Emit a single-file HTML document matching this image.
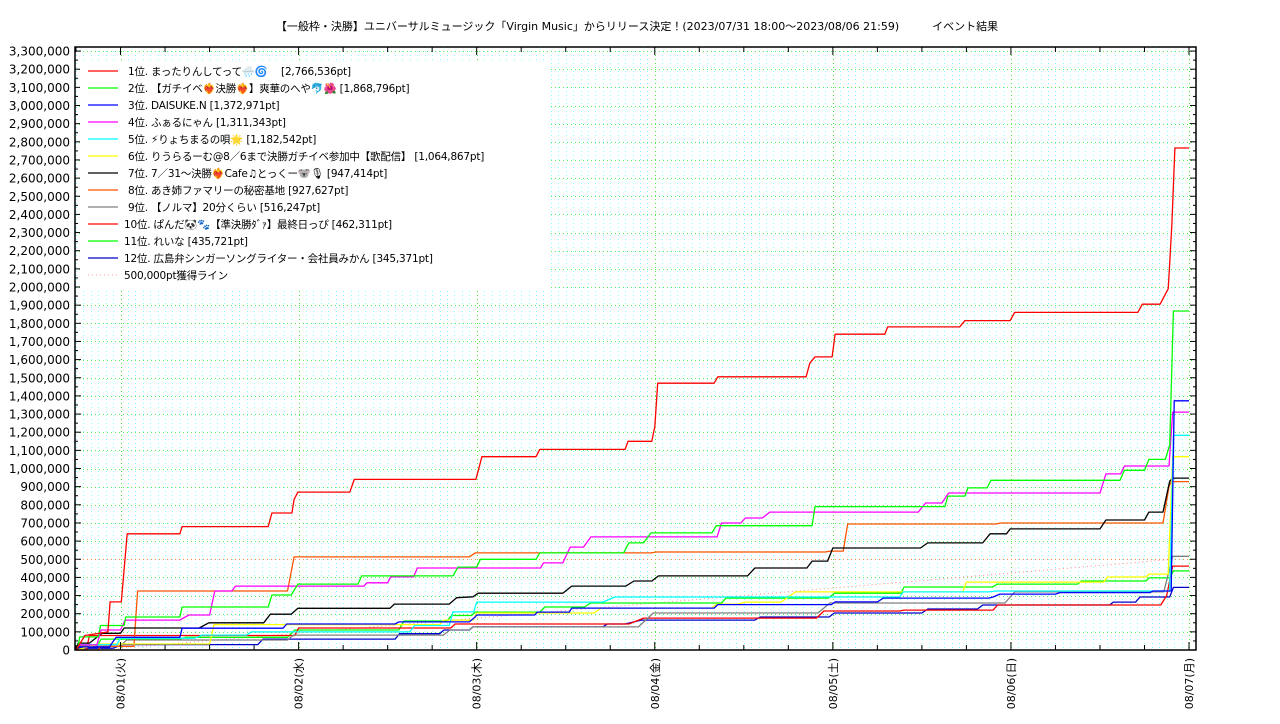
<!DOCTYPE html>
<html><head><meta charset="utf-8">
<style>
html,body{margin:0;padding:0;background:#fff;}
body{width:1280px;height:720px;overflow:hidden;font-family:"DejaVu Sans","Liberation Sans","Noto Sans CJK JP",sans-serif;}
svg text{font-family:"DejaVu Sans","Liberation Sans","Noto Sans CJK JP",sans-serif;}
</style></head>
<body>
<svg id="chart" width="1280" height="720" xmlns="http://www.w3.org/2000/svg">
<text x="637" y="30" font-size="11" text-anchor="middle" fill="#000">【一般枠・決勝】ユニバーサルミュージック「Virgin Music」からリリース決定！(2023/07/31 18:00～2023/08/06 21:59)　　　イベント結果</text>
<g id="grid" shape-rendering="crispEdges"></g>
<g id="refs"></g>
<g id="series"></g>
<g id="axes"></g>
<g id="legend"></g>
</svg>
<script>
// ---- data (hours since 2023/07/31 18:00, points in thousands) ----
const dayLabels = ["08/01(火)","08/02(水)","08/03(木)","08/04(金)","08/05(土)","08/06(日)","08/07(月)"];
const yTicks = [0,100,200,300,400,500,600,700,800,900,1000,1100,1200,1300,1400,1500,1600,1700,1800,1900,2000,2100,2200,2300,2400,2500,2600,2700,2800,2900,3000,3100,3200,3300];
const seriesNames = ["1位. まったりんしてって🌧️🌀　 [2,766,536pt]","2位. 【ガチイベ❤️‍🔥決勝❤️‍🔥】爽華のへや🐬🌺 [1,868,796pt]","3位. DAISUKE.N [1,372,971pt]","4位. ふぁるにゃん [1,311,343pt]","5位. ⚡りょちまるの唄🌟 [1,182,542pt]","6位. りうらるーむ@8／6まで決勝ガチイベ参加中【歌配信】 [1,064,867pt]","7位. 7／31〜決勝❤️‍🔥Cafe♫とっくー🐨🎙 [947,414pt]","8位. あき姉ファマリーの秘密基地 [927,627pt]","9位. 【ノルマ】20分くらい [516,247pt]","10位. ぱんだ🐼🐾【準決勝ﾀﾞｧ】最終日っぴ [462,311pt]","11位. れいな [435,721pt]","12位. 広島弁シンガーソングライター・会社員みかん [345,371pt]"];
const seriesColors = ["#ff0000","#00ff00","#0000ff","#ff00ff","#00ffff","#ffff00","#000000","#ff5500","#808080","#ff0000","#00ff00","#0000cc"];
const s1 = [[0,0],[1.2,80],[4.3,100],[4.6,265],[6.1,265],[6.9,640],[14,640],[14.3,680],[25.9,680],[26.4,755],[29.1,755],[29.4,830],[29.9,870],[36.9,870],[37.5,940],[53.9,940],[54.7,1065],[62,1065],[62.5,1105],[74,1105],[74.4,1150],[77.6,1150],[78,1230],[78.4,1470],[86,1470],[86.5,1505],[98.4,1505],[98.9,1580],[99.6,1615],[101.9,1615],[102.3,1740],[109,1740],[109.4,1780],[119.1,1780],[119.8,1815],[125.9,1815],[126.5,1860],[143.1,1860],[143.7,1905],[146.1,1905],[147.2,1990],[147.4,2130],[147.7,2350],[148.1,2766],[150,2766]];
const s2 = [[0,0],[0.3,20],[0.5,72],[3,72],[3.3,135],[6.5,135],[6.7,182],[14,182],[14.3,237],[25.9,237],[26.4,303],[29,303],[29.9,363],[38,363],[38.5,408],[50.8,408],[51.5,457],[54,457],[54.5,500],[62,500],[62.5,535],[73.8,535],[74.5,590],[76.5,590],[77.5,645],[85.7,645],[86.3,685],[99.2,685],[99.6,790],[117.1,790],[117.5,848],[119.8,848],[120.2,893],[122.8,893],[123.3,935],[140.7,935],[141.3,990],[144,990],[144.6,1050],[146.8,1050],[147.4,1130],[147.9,1868],[150,1868]];
const s3 = [[0,0],[0.5,17],[4.5,17],[5.4,70],[14,70],[14.3,120],[27.9,120],[28.4,143],[43,143],[43.5,155],[53,155],[53.8,182],[54,193],[61.8,193],[62.2,209],[66.5,209],[66.8,231],[86,231],[86.5,250],[101.8,250],[102.3,265],[108,265],[108.8,286],[123,286],[123.6,292],[124.5,308],[132,308],[132.6,316],[144.7,316],[145.2,325],[147.6,325],[148,1373],[150,1373]];
const s4 = [[0,0],[0.5,28],[2.8,28],[3.4,110],[6,110],[6.6,165],[14,165],[15.2,193],[18,193],[18.7,325],[21,325],[21.5,352],[38.8,352],[39.2,370],[42,370],[42.4,403],[45.5,403],[46,452],[62.6,452],[63,480],[65.6,480],[66.6,567],[68.4,567],[69.4,623],[86.4,623],[87,700],[89.6,700],[90.2,727],[92.5,727],[93.5,760],[113.5,760],[114.5,810],[116.7,810],[117.6,865],[138,865],[138.8,970],[140.8,970],[141.3,1014],[147.3,1014],[147.8,1311],[150,1311]];
const s5 = [[0,0],[0.5,30],[5.5,30],[6,65],[16,65],[17,82],[23,82],[23.6,100],[45,100],[45.6,135],[50.3,135],[50.8,210],[53.6,210],[54,264],[71,264],[72.6,292],[111,292],[111.5,320],[123,320],[124,325],[147.4,325],[147.9,1183],[150,1183]];
const s6 = [[0,0],[3.2,33],[18,33],[18.6,140],[49,140],[49.6,165],[53.5,165],[54,204],[69.8,204],[70.8,231],[85.6,231],[86.4,253],[89.2,253],[90.2,264],[95,264],[97,320],[119.5,320],[120,374],[138.5,374],[139,402],[144.2,402],[144.6,418],[147.2,418],[147.8,1065],[150,1065]];
const s7 = [[0,0],[0.3,38],[1.8,38],[3.5,92],[6,92],[6.5,121],[16.6,121],[17.9,150],[25.3,150],[26.2,197],[29,197],[29.9,230],[42.3,230],[42.9,253],[50.3,253],[51.3,288],[53.5,293],[54.2,313],[65.6,313],[66.8,352],[74.1,352],[75.2,380],[77.6,380],[78.5,408],[90.5,408],[91.5,452],[98.5,452],[99.2,490],[101.3,490],[102,562],[113.8,562],[114.8,590],[122.2,590],[123.2,640],[125.4,640],[125.9,667],[138,667],[138.8,716],[144,716],[144.6,760],[146.5,760],[147.4,930],[147.8,947],[150,947]];
const s8 = [[0,0],[3,0],[3.3,20],[7.8,20],[8.3,325],[28.5,325],[29.4,513],[53,513],[53.8,535],[77.5,535],[78.2,540],[101,540],[101.6,545],[103.4,545],[104,694],[124,694],[124.6,700],[146.5,700],[147.3,900],[147.6,928],[150,928]];
const s9 = [[0,0],[0.4,22],[6,22],[6.8,55],[28.5,55],[29.3,82],[49.5,82],[50.4,110],[53,110],[53.5,127],[75.8,127],[77.8,204],[100,204],[101.6,259],[125.2,259],[126.5,320],[146.6,320],[147.8,516],[150,516]];
const s10 = [[0,0],[1.4,0],[1.8,80],[29.5,80],[30,121],[50.5,121],[51.1,143],[74.5,143],[76.5,176],[99.8,176],[100.8,215],[111,215],[111.6,220],[123.6,220],[124.2,248],[146.2,248],[147,300],[147.8,462],[150,462]];
const s11 = [[0,0],[0.4,20],[2.8,20],[3.4,60],[14,60],[14.8,70],[28.5,70],[29.5,110],[43.5,110],[44.2,160],[50,160],[50.6,190],[53.3,190],[53.8,209],[62.5,209],[63.2,237],[68.5,237],[69.4,259],[87,259],[87.6,286],[101.4,286],[102.2,313],[111.2,313],[111.6,347],[123.5,347],[124.2,363],[135,363],[135.5,380],[144.2,380],[144.6,397],[147.4,397],[147.9,436],[150,436]];
const s12 = [[0,0],[0.5,10],[5,10],[6.3,30],[24.5,30],[25.2,60],[43,60],[43.6,90],[49,90],[49.6,110],[53,110],[53.5,127],[71,127],[71.6,143],[74,143],[76.2,165],[91.5,165],[92.2,182],[101.5,182],[102.2,204],[114,204],[114.8,226],[121.5,226],[122.2,248],[139.3,248],[139.8,264],[142.8,264],[143.4,292],[147.4,292],[147.9,345],[150,345]];
const allSeries = [s1,s2,s3,s4,s5,s6,s7,s8,s9,s10,s11,s12];
const targetLine = [[3,0],[148,500]];
const targetLevel = 500;

// ---- layout ----
const X0=76, PX_PER_H=7.42, Y0=650, PX_PER_K=18.15/100;
const L=75, R=1196, T=47, B=650;
function xs(h){return X0+h*PX_PER_H;}
function ys(v){return Y0-v*PX_PER_K;}
const NS="http://www.w3.org/2000/svg";
function mk(tag,attrs,parent){const e=document.createElementNS(NS,tag);for(const k in attrs)e.setAttribute(k,attrs[k]);parent.appendChild(e);return e;}

const grid=document.getElementById('grid');
for(let h=0;h<=150;h++){
  const x=Math.round(xs(h))+0.5; if(x<=L+1||x>=R-1) continue;
  const isDay=(h-6)%24===0;
  const g=mk('line',{x1:x,y1:T,x2:x,y2:B,stroke:isDay?'#44ee44':'#88ffff','stroke-width':1,'stroke-dasharray':'1,3'},grid);
  
  
}
yTicks.forEach(v=>{
  if(v===0) return;
  const y=Math.round(ys(v))+0.5;
  const g=mk('line',{x1:L,y1:y,x2:R,y2:y,stroke:'#55ee55','stroke-width':1,'stroke-dasharray':'1,3'},grid);
  
  
});

const refs=document.getElementById('refs');
const h500=mk('line',{x1:L,y1:Math.round(ys(targetLevel))+0.5,x2:R,y2:Math.round(ys(targetLevel))+0.5,stroke:'#ff8844','stroke-width':1,'stroke-dasharray':'1,3','shape-rendering':'crispEdges'},refs);


const tl=mk('polyline',{points:targetLine.map(p=>xs(p[0])+','+ys(p[1])).join(' '),fill:'none',stroke:'#ff8888','stroke-width':1,'stroke-dasharray':'1,3'},refs);



const sg=document.getElementById('series');
for(let i=allSeries.length-1;i>=0;i--){
  const pl=mk('polyline',{points:allSeries[i].map(p=>xs(p[0]).toFixed(1)+','+ys(p[1]).toFixed(1)).join(' '),fill:'none',stroke:seriesColors[i],'stroke-width':1.3,'stroke-linejoin':'round'},sg);
  
  
}

const ax=document.getElementById('axes');
const frame=mk('rect',{x:L,y:T,width:R-L,height:B-T,fill:'none',stroke:'#000','stroke-width':1.5},ax);


yTicks.forEach(v=>{
  const y=ys(v);
  mk('line',{x1:L,y1:y,x2:L+6,y2:y,stroke:'#000'},ax);
  mk('line',{x1:R,y1:y,x2:R-6,y2:y,stroke:'#000'},ax);
  if(v<3300){const ym=ys(v+50);mk('line',{x1:L,y1:ym,x2:L+3,y2:ym,stroke:'#000'},ax);mk('line',{x1:R,y1:ym,x2:R-3,y2:ym,stroke:'#000'},ax);}
  const t=mk('text',{x:70,y:y+4.5,'font-size':12,'text-anchor':'end',fill:'#000'},ax);
  t.textContent=v===0?'0':(v*1000).toLocaleString('en-US');
  
  
});
for(let h=0;h<=150;h+=6){
  const xx=X0+(h)*PX_PER_H;
  if(xx<L||xx>R) continue;
  const big=(h-6)%24===0;
  mk('line',{x1:xx,y1:B,x2:xx,y2:B-(big?8:5),stroke:'#000'},ax);
  mk('line',{x1:xx,y1:T,x2:xx,y2:T+(big?8:5),stroke:'#000'},ax);
}
dayLabels.forEach((d,i)=>{
  const x=xs(6+24*i);
  const t=mk('text',{x:0,y:0,'font-size':11,'text-anchor':'end',fill:'#000',transform:`translate(${x+4},658) rotate(-90)`},ax);
  t.textContent=d;
  
  
});

const lg=document.getElementById('legend');
const bg=mk('rect',{x:80,y:61,width:470,height:229,fill:'#fff'},lg);


seriesNames.forEach((n,i)=>{
  const y=71+i*17;
  const ln=mk('line',{x1:88,y1:y,x2:118,y2:y,stroke:seriesColors[i],'stroke-width':1.2},lg);
  
  
  const t=mk('text',{x:i<9?128:124,y:y+4,'font-size':10.5,'letter-spacing':'-0.2',fill:'#000'},lg);
  t.textContent=n;
  
  
});
const y13=71+12*17;
const ln13=mk('line',{x1:88,y1:y13,x2:118,y2:y13,stroke:'#ff9999','stroke-width':1,'stroke-dasharray':'1,3'},lg);


const t13=mk('text',{x:124,y:y13+4,'font-size':10.5,'letter-spacing':'-0.2',fill:'#000'},lg);
t13.textContent='500,000pt獲得ライン';


</script>
</body></html>
